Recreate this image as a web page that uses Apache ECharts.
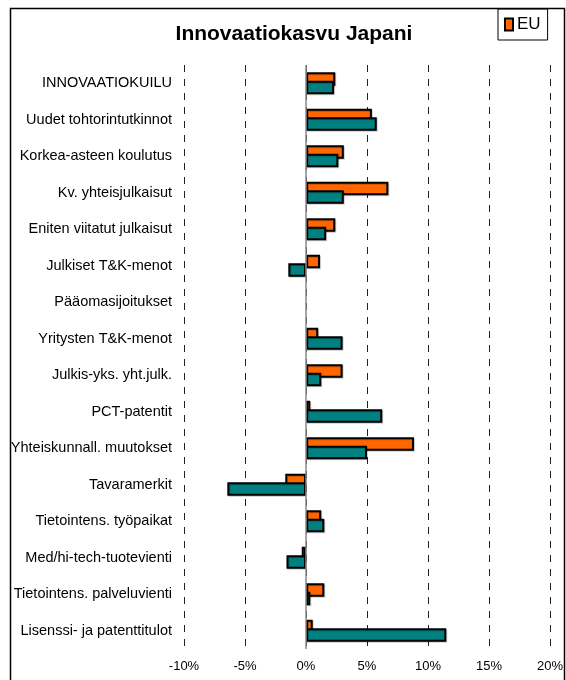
<!DOCTYPE html>
<html>
<head>
<meta charset="utf-8">
<script src="https://cdn.jsdelivr.net/npm/echarts@6/dist/echarts.min.js"></script>
<style>
  html, body { margin: 0; padding: 0; background: #fff; }
  #chart { width: 566px; height: 680px; }
</style>
</head>
<body>
<div id="chart"></div>
<script>
  var categories = [
    'INNOVAATIOKUILU',
    'Uudet tohtorintutkinnot',
    'Korkea-asteen koulutus',
    'Kv. yhteisjulkaisut',
    'Eniten viitatut julkaisut',
    'Julkiset T&K-menot',
    'Pääomasijoitukset',
    'Yritysten T&K-menot',
    'Julkis-yks. yht.julk.',
    'PCT-patentit',
    'Yhteiskunnall. muutokset',
    'Tavaramerkit',
    'Tietointens. työpaikat',
    'Med/hi-tech-tuotevienti',
    'Tietointens. palveluvienti',
    'Lisenssi- ja patenttitulot'
  ];
  // % growth
  var euValues = [2.4, 5.4, 3.1, 6.75, 2.4, 1.15, null, 1.0, 3.0, 0.35, 8.85, -1.7, 1.25, -0.35, 1.5, 0.55];
  var japanValues = [2.3, 5.8, 2.65, 3.1, 1.65, -1.45, null, 3.0, 1.25, 6.25, 5.0, -6.45, 1.5, -1.6, 0.35, 11.5];
  var xTicks = [-10, 20, 5];

  var chart = echarts.init(document.getElementById('chart'));

  var barStyle = function (color) {
    return {
      color: color,
      borderColor: '#000',
      borderWidth: 2,
      shadowColor: 'rgba(0,0,0,0.2)',
      shadowOffsetX: 1,
      shadowOffsetY: 1
    };
  };

  var option = {
    backgroundColor: '#fff',
    animation: false,
    textStyle: { fontFamily: 'Liberation Sans, Arial, sans-serif' },
    graphic: [{
      type: 'rect',
      shape: { x: 10.5, y: 8.5, width: 554, height: 690 },
      style: { fill: 'none', stroke: '#000', lineWidth: 1.5 },
      silent: true
    }],
    title: {
      text: 'Innovaatiokasvu Japani',
      left: 289,
      textAlign: 'center',
      top: 19,
      textStyle: { fontSize: 21, fontWeight: 'bold', color: '#000', fontFamily: 'Liberation Sans, Arial, sans-serif' }
    },
    legend: {
      data: ['EU'],
      left: 498,
      top: 9,
      borderColor: '#000',
      borderWidth: 1,
      padding: [7, 7, 7, 6],
      itemWidth: 8,
      itemHeight: 12,
      itemGap: 4,
      icon: 'rect',
      textStyle: { fontSize: 17, color: '#000', padding: [0, 0, 0, -1] }
    },
    grid: { left: 184, right: 13, top: 65, bottom: 31, containLabel: false },
    xAxis: {
      type: 'value',
      min: xTicks[0],
      max: xTicks[1],
      interval: xTicks[2],
      axisLine: { show: false },
      axisTick: { show: false },
      axisLabel: { formatter: '{value}%', fontSize: 13, color: '#000', margin: 11 },
      splitLine: { show: true, lineStyle: { color: '#222', width: 1, type: [7, 7] } }
    },
    yAxis: {
      type: 'category',
      data: categories,
      inverse: true,
      axisLine: { show: false },
      axisTick: { show: false },
      axisLabel: { fontSize: 14.5, color: '#000', margin: 12 }
    },
    series: [
      {
        name: 'EU',
        type: 'bar',
        data: euValues,
        barWidth: 13.5,
        barGap: '-38%',
        itemStyle: barStyle('#FF6600')
      },
      {
        name: 'Japani',
        type: 'bar',
        data: japanValues,
        barWidth: 13.5,
        barGap: '-38%',
        itemStyle: barStyle('#008080'),
        markLine: {
          silent: true,
          symbol: 'none',
          label: { show: false },
          lineStyle: { color: '#888', width: 1.5, type: 'solid' },
          data: [{ xAxis: 0 }]
        }
      }
    ]
  };

  chart.setOption(option);
</script>
</body>
</html>
